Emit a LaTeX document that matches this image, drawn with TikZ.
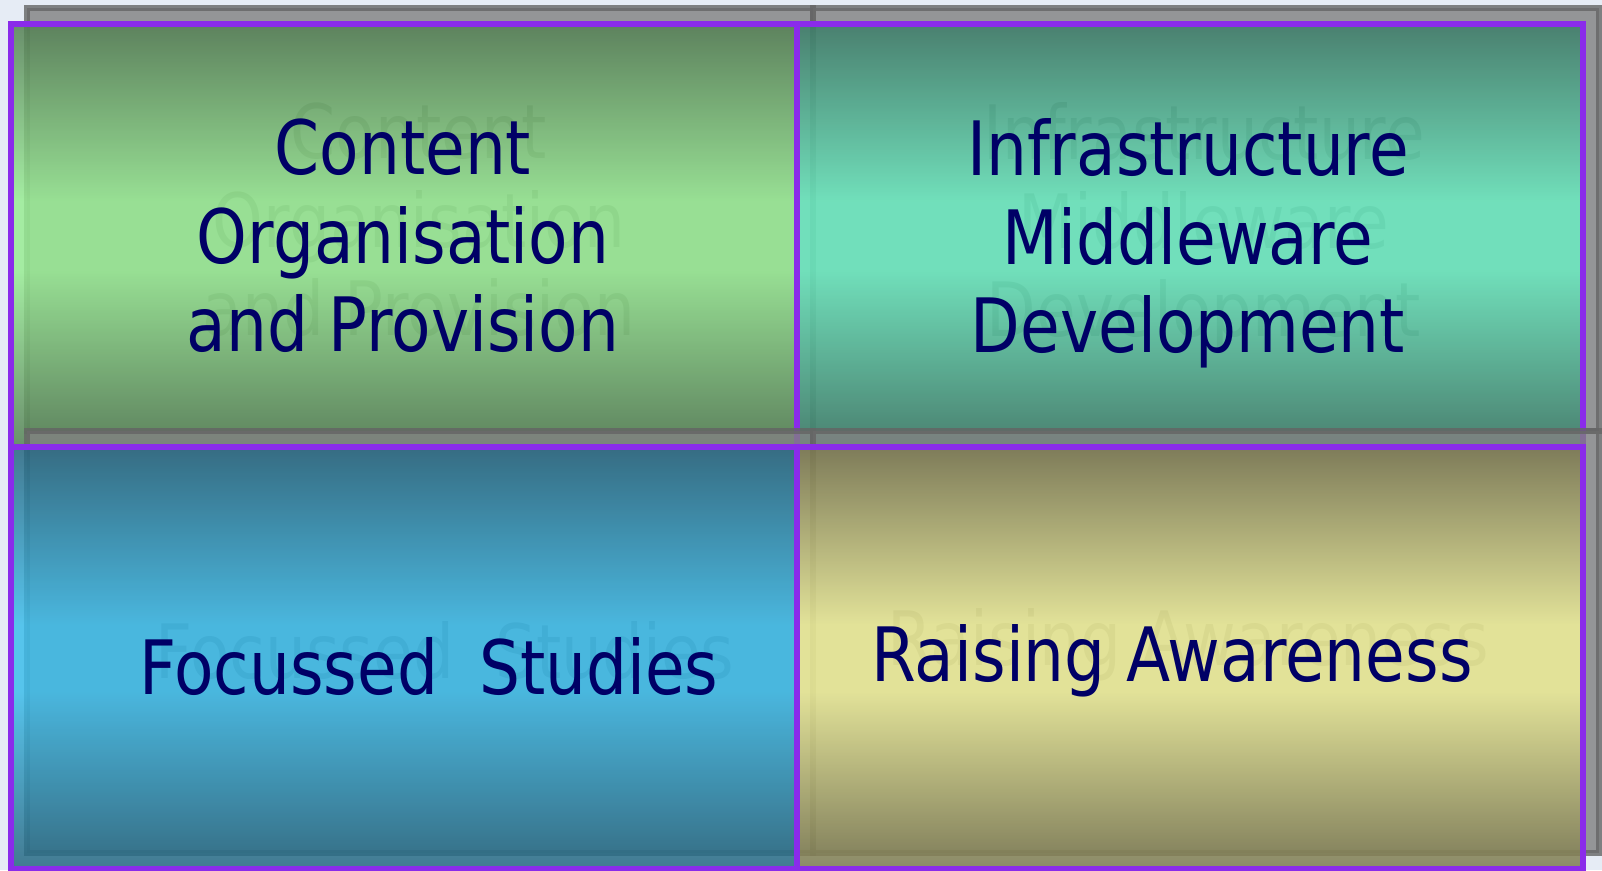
\documentclass[tikz,border=0pt]{standalone}
\usepackage{fontspec}
\setmainfont{DejaVu Sans}[FakeStretch=0.86]
\usepackage{xcolor}
\usepackage{tikz}

\definecolor{pagebg}{HTML}{E6ECF5}
\definecolor{cellborder}{HTML}{8A2BEA}
\definecolor{shadowgray}{HTML}{808080}
\definecolor{shadowedge}{HTML}{656565}
\definecolor{textnavy}{HTML}{000066}

% dark - light - dark bands for the four cells
\pgfdeclareverticalshading{greencell}{100bp}{rgb(0bp)=(0.33,0.50,0.33); rgb(25bp)=(0.33,0.50,0.33); rgb(46bp)=(0.60,0.93,0.58); rgb(54bp)=(0.60,0.93,0.58); rgb(75bp)=(0.33,0.50,0.33); rgb(100bp)=(0.33,0.50,0.33)}
\pgfdeclareverticalshading{tealcell}{100bp}{rgb(0bp)=(0.24,0.49,0.41); rgb(25bp)=(0.24,0.49,0.41); rgb(46bp)=(0.42,0.93,0.76); rgb(54bp)=(0.42,0.93,0.76); rgb(75bp)=(0.24,0.49,0.41); rgb(100bp)=(0.24,0.49,0.41)}
\pgfdeclareverticalshading{bluecell}{100bp}{rgb(0bp)=(0.15,0.40,0.50); rgb(25bp)=(0.15,0.40,0.50); rgb(46bp)=(0.24,0.74,0.92); rgb(54bp)=(0.24,0.74,0.92); rgb(75bp)=(0.15,0.40,0.50); rgb(100bp)=(0.15,0.40,0.50)}
\pgfdeclareverticalshading{olivecell}{100bp}{rgb(0bp)=(0.48,0.47,0.31); rgb(25bp)=(0.48,0.47,0.31); rgb(46bp)=(0.94,0.94,0.60); rgb(54bp)=(0.94,0.94,0.60); rgb(75bp)=(0.48,0.47,0.31); rgb(100bp)=(0.48,0.47,0.31)}

\begin{document}
\begin{tikzpicture}[
  cell/.style={rectangle, draw=cellborder, line width=6.5pt, fill opacity=0.85, inner sep=0pt, minimum width=786pt, minimum height=#1},
  cellshadow/.style={rectangle, fill=shadowgray, draw=shadowedge, line width=6pt, opacity=0.8, inner sep=0pt, minimum width=786pt, minimum height=#1},
  celltext/.style={text=textnavy, font=\fontsize{75}{88.5}\selectfont, align=center},
  ghosttext/.style={celltext, text=black!65}]
\fill[pagebg] (0pt,0pt) rectangle (1602pt,-870pt);
\useasboundingbox (0pt,0pt) rectangle (1602pt,-870pt);

% top row
\node (contentshadow) [cellshadow=423pt] at (420pt,-219.5pt) {};
\node (contentghost) [ghosttext] at (419pt,-220pt) {Content\\Organisation\\and Provision};
\node (content) [cell=423pt, shading=greencell] at (404pt,-235.5pt) {};
\node (contenttext) [celltext] at (403pt,-236pt) {Content\\Organisation\\and Provision};

\node (infrashadow) [cellshadow=423pt] at (1206pt,-219.5pt) {};
\node (infraghost) [ghosttext] at (1204pt,-227.5pt) {Infrastructure\\Middleware\\Development};
\node (infra) [cell=423pt, shading=tealcell] at (1190pt,-235.5pt) {};
\node (infratext) [celltext] at (1188pt,-243.5pt) {Infrastructure\\Middleware\\Development};

% bottom row
\node (focusshadow) [cellshadow=422pt] at (420pt,-642pt) {};
\node (focusghost) [ghosttext] at (445pt,-650.5pt) {Focussed\ \ Studies};
\node (focus) [cell=422pt, shading=bluecell] at (404pt,-658pt) {};
\node (focustext) [celltext] at (429pt,-666.5pt) {Focussed\ \ Studies};

\node (raiseshadow) [cellshadow=422pt] at (1206pt,-642pt) {};
\node (raiseghost) [ghosttext] at (1188pt,-644.5pt) {Raising Awareness};
\node (raise) [cell=422pt, shading=olivecell] at (1190pt,-658pt) {};
\node (raisetext) [celltext] at (1172pt,-660.5pt) {Raising Awareness};
\end{tikzpicture}
\end{document}
